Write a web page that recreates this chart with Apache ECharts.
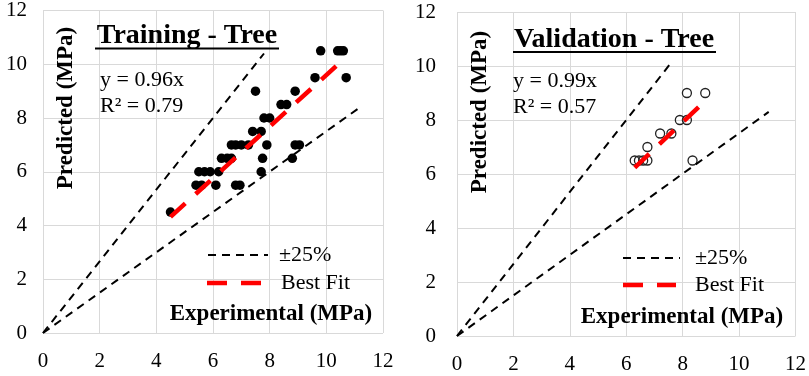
<!DOCTYPE html>
<html>
<head>
<meta charset="utf-8">
<script src="https://cdn.jsdelivr.net/npm/echarts@6/dist/echarts.min.js"></script>
<style>html,body{margin:0;padding:0;background:#fff}#c{width:809px;height:376px}</style>
</head>
<body>
<div id="c"></div>
<script>
// ---- data ----
const axisTicks = [0, 2, 4, 6, 8, 10, 12];
const trainPoints = [
  [4.5,4.5],
  [5.4,5.5],[5.6,5.5],[6.1,5.5],[6.8,5.5],[6.95,5.5],
  [5.5,6],[5.7,6],[5.9,6],[6.2,6],[7.7,6],
  [6.3,6.5],[6.5,6.5],[6.65,6.5],[7.75,6.5],[8.8,6.5],
  [6.65,7],[6.8,7],[7.0,7],[7.25,7],[7.9,7],[8.9,7],[9.05,7],
  [7.4,7.5],[7.7,7.5],
  [7.8,8],[8.0,8],
  [8.4,8.5],[8.6,8.5],
  [7.5,9],[8.9,9],
  [9.6,9.5],[10.7,9.5],
  [9.8,10.5],[10.4,10.5],[10.5,10.5],[10.6,10.5]
];
const validPoints = [
  [6.3,6.5],[6.45,6.5],[6.6,6.5],[6.75,6.5],[8.35,6.5],
  [6.75,7],
  [7.2,7.5],[7.6,7.5],
  [7.9,8],[8.15,8],
  [8.15,9],[8.8,9]
];
const trainUpper = [[0,0],[7.8,10.4]];
const trainLower = [[0,0],[11.1,8.33]];
const validUpper = [[0,0],[7.65,10.2]];
const validLower = [[0,0],[11.05,8.3]];
const trainSlope = 0.96, trainFitRange = [4.5, 10.5];
const validSlope = 0.99, validFitRange = [6.3, 8.6];
const trainTitle = 'Training - Tree', validTitle = 'Validation - Tree';
const trainEq = ['y = 0.96x', 'R\u00B2 = 0.79'];
const validEq = ['y = 0.99x', 'R\u00B2 = 0.57'];
const xName = 'Experimental (MPa)', yName = 'Predicted (MPa)';
const legendNames = ['\u00B125%', 'Best Fit'];

const FF = '"Liberation Serif","Times New Roman",serif';
const fitLine = (s, r) => [[r[0], s * r[0]], [r[1], s * r[1]]];

function xAxis(i){
  return {gridIndex:i, type:'value', min:axisTicks[0], max:axisTicks[axisTicks.length-1], interval:2,
    axisLine:{show:false}, axisTick:{show:false},
    splitLine:{show:true, lineStyle:{color:'#d9d9d9', width:1}},
    axisLabel:{margin:18, fontFamily:FF, fontSize:21, color:'#000'}};
}
function yAxis(i, m){
  return {gridIndex:i, type:'value', min:axisTicks[0], max:axisTicks[axisTicks.length-1], interval:2,
    axisLine:{show:false}, axisTick:{show:false},
    splitLine:{show:true, lineStyle:{color:'#d9d9d9', width:1}},
    axisLabel:{margin:m, fontFamily:FF, fontSize:21, color:'#000'}};
}
const blackDash = {color:'#000', width:2, type:[8,6]};
const redDash = {color:'#ff0000', width:4.5, type:[20,14]};
function lineSeries(i, data, ls, z){
  return {type:'line', xAxisIndex:i, yAxisIndex:i, data:data, symbol:'none', lineStyle:ls, z:z, silent:true, animation:false};
}

function txt(x, y, text, size, weight, align, rot){
  const o = {type:'text', x:x, y:y, z:100,
    style:{text:text, fontFamily:FF, fontSize:size, fontWeight:weight||'normal', fill:'#000',
      align:align||'left', verticalAlign:'middle'}};
  if (rot) o.rotation = rot;
  return o;
}
function seg(x1,y1,x2,y2,ls){
  return {type:'line', z:100, shape:{x1:x1,y1:y1,x2:x2,y2:y2}, style:{stroke:ls.color, lineWidth:ls.width, lineDash:ls.type}};
}

const option = {
  backgroundColor:'#fff',
  animation:false,
  grid:[
    {left:43, top:10, width:340, height:323},
    {left:457, top:12, width:340, height:324}
  ],
  xAxis:[xAxis(0), xAxis(1)],
  yAxis:[yAxis(0,16), yAxis(1,21)],
  series:[
    {type:'scatter', xAxisIndex:0, yAxisIndex:0, data:trainPoints, symbolSize:9.5,
      itemStyle:{color:'#000', opacity:1}, z:2},
    lineSeries(0, trainUpper, blackDash, 3),
    lineSeries(0, trainLower, blackDash, 3),
    lineSeries(0, fitLine(trainSlope, trainFitRange), redDash, 4),
    {type:'scatter', xAxisIndex:1, yAxisIndex:1, data:validPoints, symbolSize:9,
      itemStyle:{color:'transparent', borderColor:'#222', borderWidth:1.3, opacity:1}, z:2},
    lineSeries(1, validUpper, blackDash, 3),
    lineSeries(1, validLower, blackDash, 3),
    lineSeries(1, fitLine(validSlope, validFitRange), redDash, 4)
  ],
  graphic:[
    // left panel
    txt(187, 36, trainTitle, 28, 'bold', 'center'),
    seg(95, 48.5, 279, 48.5, {color:'#000', width:2}),
    txt(100, 80, trainEq[0], 22),
    txt(100, 106, trainEq[1], 22),
    txt(66, 108, yName, 23, 'bold', 'center', Math.PI/2),
    txt(271, 314, xName, 23, 'bold', 'center'),
    seg(208, 255, 268, 255, blackDash),
    txt(279, 255, legendNames[0], 22),
    seg(207, 283, 262, 283, redDash),
    txt(281, 283, legendNames[1], 22),
    // right panel
    txt(614, 40, validTitle, 28, 'bold', 'center'),
    seg(513, 52, 716, 52, {color:'#000', width:2}),
    txt(513, 81, validEq[0], 22),
    txt(513, 107, validEq[1], 22),
    txt(480, 112, yName, 23, 'bold', 'center', Math.PI/2),
    txt(682, 317, xName, 23, 'bold', 'center'),
    seg(623, 258, 680, 258, blackDash),
    txt(695, 258, legendNames[0], 22),
    seg(623, 285, 676, 285, redDash),
    txt(695, 285, legendNames[1], 22)
  ]
};
const chart = echarts.init(document.getElementById('c'), null, {renderer:'canvas'});
chart.setOption(option);
</script>
</body>
</html>
